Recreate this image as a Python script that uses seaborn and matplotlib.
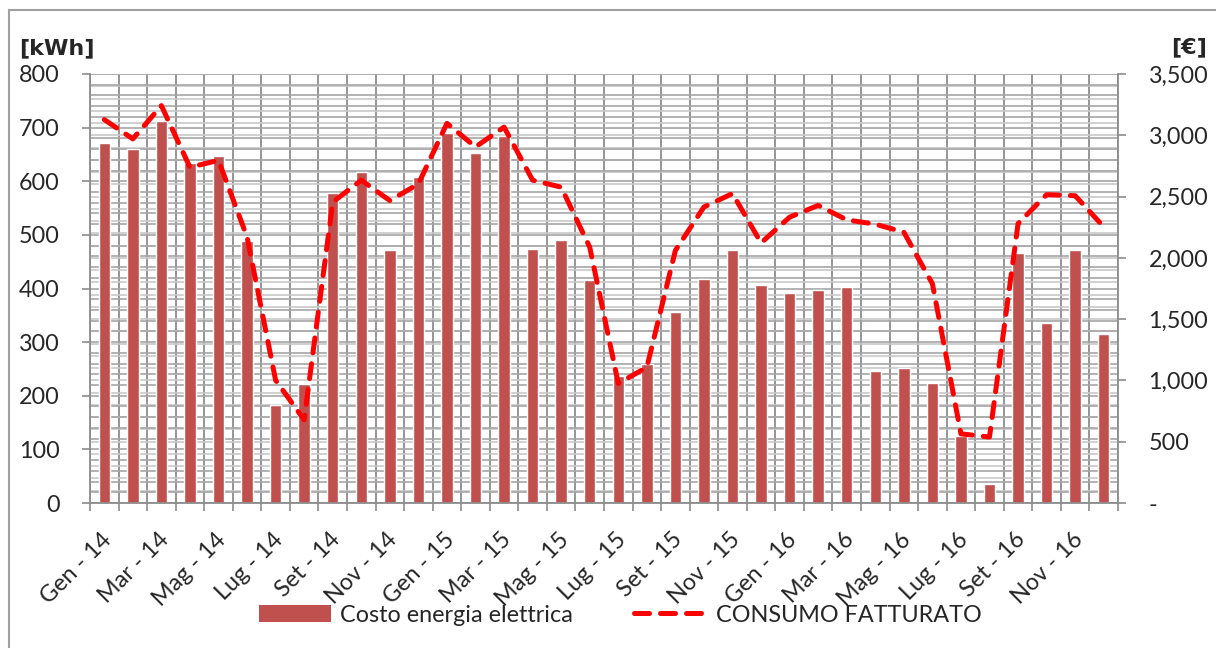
import numpy as np
import pandas as pd
import seaborn as sns
import matplotlib
matplotlib.use("Agg")
import matplotlib.pyplot as plt
import matplotlib.transforms as mtransforms
from matplotlib.patches import Rectangle
from matplotlib.lines import Line2D
from matplotlib.collections import LineCollection
from matplotlib.ticker import FuncFormatter, MultipleLocator

# --- data -------------------------------------------------------------
mesi = ["Gen", "Feb", "Mar", "Apr", "Mag", "Giu", "Lug", "Ago", "Set", "Ott", "Nov", "Dic"]
anni = ["14", "15", "16"]
periodi = [f"{m} - {a}" for a in anni for m in mesi]

# monthly electricity cost [€]
costo_eur = [2940, 2888, 3115, 2774, 2831, 2135, 798, 970, 2533, 2704, 2065, 2656,
             3019, 2853, 2997, 2069, 2148, 1816, 1037, 1138, 1558, 1829, 2065, 1776,
             1715, 1741, 1759, 1078, 1098, 978, 547, 153, 2043, 1466, 2065, 1378]

# billed consumption [kWh]
consumo_kwh = [715, 679, 741, 626, 639, 496, 229, 155, 561, 602, 564, 595,
               708, 664, 701, 602, 589, 477, 223, 253, 471, 552, 577, 485,
               533, 555, 528, 520, 505, 409, 129, 123, 521, 575, 573, 515]

label_costo = "Costo energia elettrica"
label_consumo = "CONSUMO FATTURATO"

df = pd.DataFrame({"periodo": periodi, "pos": np.arange(len(periodi)),
                   "costo": costo_eur, "consumo": consumo_kwh})

# --- style ------------------------------------------------------------
sns.set_style("white")
plt.rcParams["font.family"] = ["Lato", "DejaVu Sans"]
FS = 16.8
BAR_C = "#C0504D"
LINE_C = "#FF0000"
AX_C = "#8c8c8c"

W, H = 1216, 648
fig = plt.figure(figsize=(W / 100, H / 100), dpi=100)
ax = fig.add_axes([90 / W, 1 - 503 / H, (1118 - 90) / W, (503 - 74) / H])

# bars: cost on the euro scale
sns.barplot(data=df, x="periodo", y="costo", color=BAR_C, saturation=1,
            width=0.4, ax=ax, zorder=2)
ax.set_xlabel("")
ax.set_ylabel("")

# secondary scale for consumption
ax2 = ax.twinx()
ax.yaxis.tick_right()
ax2.yaxis.tick_left()

n = len(periodi)
ax.set_ylim(0, 3500)
ax2.set_ylim(0, 800)

# euro axis ticks / grid
ax.yaxis.set_major_locator(MultipleLocator(500))
ax.yaxis.set_minor_locator(MultipleLocator(100))
ax.yaxis.set_major_formatter(FuncFormatter(lambda v, p: "-" if v == 0 else f"{v:,.0f}"))
ax.set_axisbelow(True)
ax.grid(axis="y", which="both", color="#c8c8c8", lw=1.2)

# category boundaries (tick marks + vertical grid) and labels
ax.set_xticks(np.arange(-0.5, n, 1.0))
ax.set_xticklabels([])
ax.set_xticks(np.arange(0, n, 2), periodi[::2], minor=True)
ax.grid(axis="x", which="major", color=AX_C, lw=1.3)
ax.tick_params(axis="x", which="major", direction="out", length=6, width=1.2,
               color=AX_C, bottom=True)
ax.tick_params(axis="x", which="minor", length=0, pad=24, labelsize=FS)
offset = mtransforms.ScaledTranslation(4 / 100, 0, fig.dpi_scale_trans)
for lab in ax.get_xticklabels(minor=True):
    lab.set_rotation(45)
    lab.set_ha("right")
    lab.set_va("center")
    lab.set_rotation_mode("anchor")
    lab.set_transform(lab.get_transform() + offset)

ax.tick_params(axis="y", which="major", direction="out", length=6, width=1.2,
               color=AX_C, pad=16, labelsize=FS, right=True, left=False,
               labelright=True, labelleft=False)
ax.tick_params(axis="y", which="minor", length=0, left=False, right=False)

# kWh grid every 20, kept behind the bars
kwh_lines = [[(0, v), (1, v)] for v in range(0, 801, 20)]
blend = mtransforms.blended_transform_factory(ax.transAxes, ax2.transData)
ax.add_collection(LineCollection(kwh_lines, colors="#a6a6a6", linewidths=1.2,
                                 transform=blend, zorder=0.7), autolim=False)

ax2.yaxis.set_major_locator(MultipleLocator(100))
ax2.tick_params(axis="y", which="major", direction="out", length=6, width=1.2,
                color=AX_C, pad=16, labelsize=FS, left=True, right=False,
                labelleft=True, labelright=False)

for s in ["top", "left"]:
    ax.spines[s].set_visible(False)
for s in ["right", "bottom"]:
    ax.spines[s].set_color(AX_C)
    ax.spines[s].set_linewidth(1.3)
for s in ["top", "right", "bottom"]:
    ax2.spines[s].set_visible(False)
ax2.spines["left"].set_color(AX_C)
ax2.spines["left"].set_linewidth(1.3)

# consumption line on the kWh scale
DASH = (0, (3.0, 2.2))
sns.lineplot(data=df, x="pos", y="consumo", ax=ax2, color=LINE_C, lw=3.6,
             linestyle=DASH, dash_capstyle="round", solid_joinstyle="round",
             legend=False, zorder=3)
ax2.set_xlabel("")
ax2.set_ylabel("")
ax.set_xlim(-0.5, n - 0.5)

# unit labels
unit_font = dict(fontsize=16, fontweight="bold", family="DejaVu Sans")
fig.text(57 / W, 1 - 48 / H, "[kWh]", ha="center", va="center", **unit_font)
fig.text(1189 / W, 1 - 47 / H, "[€]", ha="center", va="center", **unit_font)

# legend
handles = [Rectangle((0, 0), 1, 1, facecolor=BAR_C, edgecolor="none"),
           Line2D([0], [0], color=LINE_C, lw=3.6, linestyle=DASH,
                  dash_capstyle="round")]
fig.legend(handles, [label_costo, label_consumo], loc="center",
           bbox_to_anchor=(620 / W, 1 - 615 / H), ncol=2, frameon=False,
           fontsize=FS, handlelength=3.1, handleheight=0.7,
           handletextpad=0.4, columnspacing=2.6)

# outer chart frame
fig.add_artist(Rectangle((8.5 / W, -0.05), 1.1, (1 - 10 / H) + 0.05,
                         transform=fig.transFigure, fill=False,
                         edgecolor="#a0a0a0", lw=1.5))

fig.savefig("out.png", dpi=100)
